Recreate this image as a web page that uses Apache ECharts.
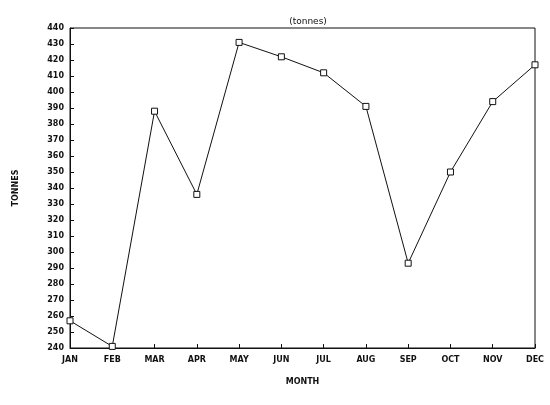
<!DOCTYPE html>
<html><head><meta charset="utf-8">
<script src="https://cdn.jsdelivr.net/npm/echarts@6/dist/echarts.min.js"></script>
<style>body{margin:0;background:#fff}#c{width:550px;height:405px}</style>
</head><body><div id="c"></div>
<script>
const months=['JAN','FEB','MAR','APR','MAY','JUN','JUL','AUG','SEP','OCT','NOV','DEC'];
const tonnes=[257,241,388,336,431,422,412,391,293,350,394,417];
const c=echarts.init(document.getElementById('c'));
const font={fontFamily:'DejaVu Sans',fontSize:8,fontWeight:'bold',color:'#111'};
c.setOption({
 animation:false,
 title:{text:'(tonnes)',left:303,top:12,textAlign:'center',textStyle:{...font,fontSize:9,fontWeight:'normal'}},
 grid:{left:70,right:15,top:28,bottom:57,show:true,borderColor:'#111',borderWidth:1},
 xAxis:{type:'category',data:months,boundaryGap:false,name:'MONTH',nameLocation:'middle',nameGap:30,nameTextStyle:font,
  axisLine:{lineStyle:{color:'#111'}},axisTick:{inside:true,length:4,lineStyle:{color:'#111'}},axisLabel:{...font,margin:8},splitLine:{show:false}},
 yAxis:{type:'value',min:240,max:440,interval:10,name:'TONNES',nameLocation:'middle',nameGap:50,nameTextStyle:font,
  axisLine:{show:true,lineStyle:{color:'#111'}},axisTick:{show:true,inside:true,length:4,lineStyle:{color:'#111'}},axisLabel:{...font,margin:6},splitLine:{show:false}},
 series:[{type:'line',data:tonnes,symbol:'rect',symbolSize:6,showAllSymbol:true,
  itemStyle:{color:'#fff',borderColor:'#111',borderWidth:1},lineStyle:{color:'#111',width:1}}]
});
</script></body></html>
